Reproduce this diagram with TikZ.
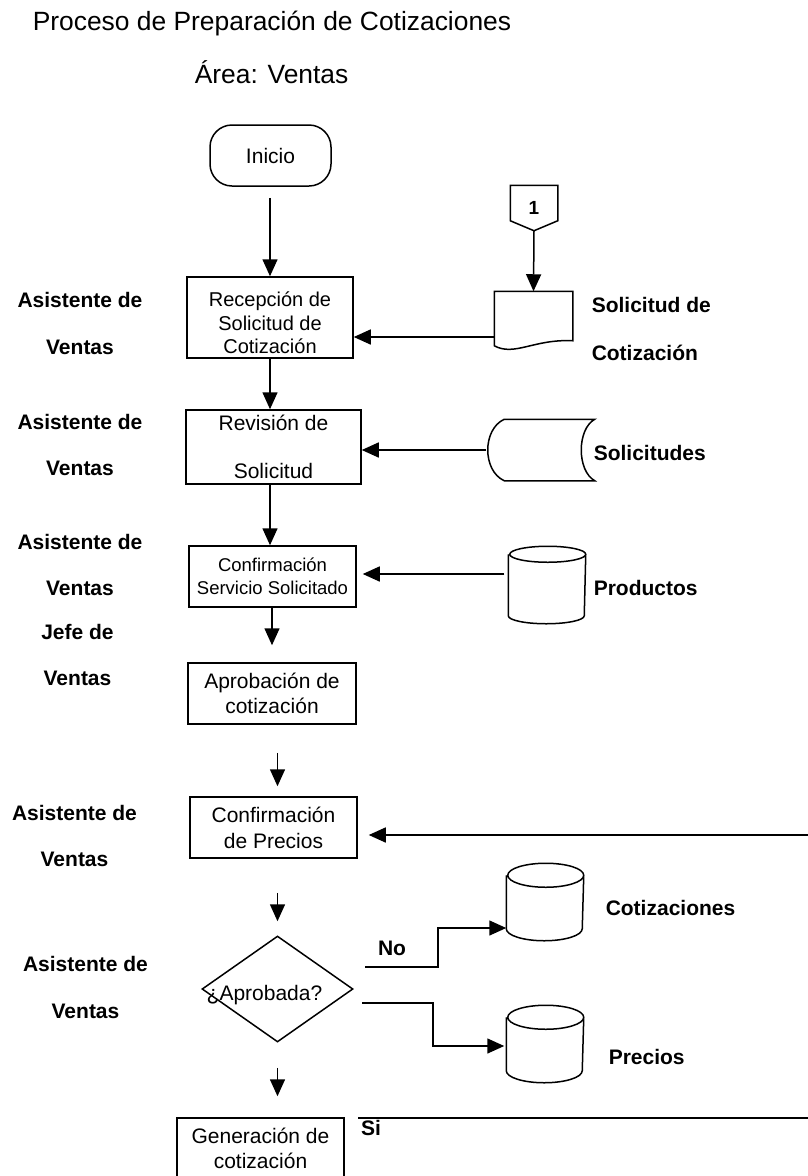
\documentclass[tikz,border=0pt]{standalone}
\usepackage{fontspec}
\setmainfont{Liberation Sans}
\usetikzlibrary{arrows.meta,shapes.geometric,calc}
\newcommand\titlefont{\fontsize{26.4}{30}\selectfont}
\newcommand\boxfont{\fontsize{21}{25}\selectfont}
\newcommand\labfont{\fontsize{21}{46.5}\selectfont\bfseries}
\newcommand\drawcyl[2]{%
  \draw[fill=white] ([yshift=-#2pt]#1.north west) -- ([yshift=#2pt]#1.south west)
    arc[start angle=180, end angle=360, x radius=38pt, y radius=#2pt]
    -- ([yshift=-#2pt]#1.north east)
    arc[start angle=0, end angle=180, x radius=38pt, y radius=#2pt]
    arc[start angle=180, end angle=360, x radius=38pt, y radius=#2pt];}
\tikzset{
  box/.style={draw, line width=1.5pt, inner sep=0pt, align=center, font=\boxfont},
  arr/.style={line width=1.5pt, -{Triangle[length=17pt,width=15pt]}},
  lab/.style={font=\labfont, align=center, inner sep=0pt},
  rlab/.style={font=\labfont, align=left, anchor=west, inner sep=0pt},
  holder/.style={inner sep=0pt, minimum width=#1},
}
\begin{document}
\begin{tikzpicture}[x=1pt, y=-1pt, line width=1.5pt]
\fill[white] (0,0) rectangle (808,1176);
\useasboundingbox (0,0) rectangle (808,1176);

% titles
\node[anchor=base west, inner sep=0pt, font=\titlefont] (title) at (32,30) {Proceso de Preparación de Cotizaciones};
\node[anchor=base west, inner sep=0pt, font=\titlefont] (area) at (194,83) {Área: Ventas};

% left role labels
\node[lab] (r1) at (80,323.5) {Asistente de\\Ventas};
\node[lab] (r2) at (80,445) {Asistente de\\Ventas};
\node[lab] (r3) at (80,565) {Asistente de\\Ventas};
\node[lab] (r4) at (77.5,655) {Jefe de\\Ventas};
\node[lab] (r5) at (74.5,836) {Asistente de\\Ventas};
\node[lab] (r6) at (85.5,987.5) {Asistente de\\Ventas};

% main column
\node[draw, rounded corners=22pt, minimum width=121pt, minimum height=61pt, inner sep=0pt, font=\boxfont] (inicio) at (270.5,155.5) {Inicio};
\node[box, minimum width=166pt, minimum height=81pt] (recep) at (270,317.5) {};
\node[inner sep=0pt, align=center, font=\fontsize{20}{23.5}\selectfont] (recepT) at (270,323) {Recepción de\\Solicitud de\\Cotización};
\node[box, minimum width=175pt, minimum height=74pt, font=\fontsize{21}{48}\selectfont] (rev) at (273.5,447) {Revisión de\\Solicitud};
\node[box, minimum width=167pt, minimum height=61pt, font=\fontsize{18.5}{23}\selectfont] (confserv) at (272.5,576.5) {Confirmación\\Servicio Solicitado};
\node[box, minimum width=168pt, minimum height=61pt] (aprob) at (272,693.5) {Aprobación de\\cotización};
\node[box, minimum width=167pt, minimum height=61pt, font=\fontsize{21}{26}\selectfont] (confp) at (273.5,827.5) {Confirmación\\de Precios};
\node[draw, diamond, minimum width=151pt, minimum height=106pt, inner sep=0pt] (dia) at (277.5,989) {};
\node[inner sep=0pt, font=\boxfont, anchor=base] (diaT) at (264.5,1000) {¿Aprobada?};
\node[box, minimum width=167pt, minimum height=61pt] (gen) at (260.5,1148.5) {Generación de\\cotización};

% off-page connector
\node[inner sep=0pt, minimum width=46pt, minimum height=44pt, font=\fontsize{19}{22}\selectfont\bfseries] (conn) at (534,208) {1};
\draw (conn.north west) -- ([yshift=10pt]conn.south west) -- (conn.south) -- ([yshift=10pt]conn.south east) -- (conn.north east) -- cycle;

% document
\node[inner sep=0pt, minimum width=77pt, minimum height=56pt] (doc) at (533.5,320) {};
\draw (doc.north west) -- (doc.north east) -- ($(doc.south east)+(0,-8)$)
  .. controls ($(doc.south west)+(40,-10)$) and ($(doc.south west)+(20,8)$) .. ($(doc.south west)+(0,-3)$) -- cycle;

% stored data (Solicitudes)
\node[inner sep=0pt, minimum width=107pt, minimum height=60pt] (sols) at (540.5,450) {};
\draw ($(sols.north west)+(18,0)$) -- (sols.north east)
  .. controls ($(sols.north east)+(-18,10)$) and ($(sols.south east)+(-18,-10)$) .. (sols.south east)
  -- ($(sols.south west)+(18,0)$)
  .. controls ($(sols.south west)+(-4,-10)$) and ($(sols.north west)+(-4,10)$) .. ($(sols.north west)+(18,0)$) -- cycle;

% databases
\node[inner sep=0pt, minimum width=76pt, minimum height=76pt] (prod) at (547,585) {};
\drawcyl{prod}{8}
\node[inner sep=0pt, minimum width=76pt, minimum height=76pt] (cotiz) at (545,902) {};
\drawcyl{cotiz}{12}
\node[inner sep=0pt, minimum width=76pt, minimum height=76pt] (precios) at (545,1044) {};
\drawcyl{precios}{12}

% right labels
\node[rlab, font=\fontsize{21}{48}\selectfont\bfseries] (ldoc) at (591,329) {Solicitud de\\Cotización};
\node[rlab] (lsols) at (593,453) {Solicitudes};
\node[rlab] (lprod) at (593,588) {Productos};
\node[rlab] (lcot) at (605,908) {Cotizaciones};
\node[rlab] (lpre) at (608,1057) {Precios};
\node[lab] (lno) at (392,948) {No};
\node[lab] (lsi) at (371,1128) {Si};

% free ends
\coordinate (ret) at (808,835);
\coordinate (nos) at (365,967);
\coordinate (sis) at (362,1003);
\coordinate (sia) at (358,1118);
\coordinate (sib) at (808,1118);
\coordinate (da) at ([yshift=-17pt]doc.west);
\coordinate (pa) at ([yshift=11pt]prod.west);

% connectors
\draw[arr, shorten <=11pt] (inicio.south -| recep) -- (recep.north);
\draw[arr] (conn.south) -- (doc.north);
\draw[arr] (da) -- (recep.east |- da);
\draw[arr] (recep.south) -- (rev.north -| recep);
\draw[arr] (sols.west) -- (rev.east |- sols.west);
\draw[arr] (rev.south -| recep) -- (confserv.north -| recep);
\draw[arr, shorten <=4pt, shorten >=6pt] (pa) -- (confserv.east |- pa);
\draw[arr, shorten >=17pt] (confserv.south -| aprob) -- (aprob.north);
\draw[arr, shorten <=28pt, shorten >=10pt] (aprob.south -| dia) -- (confp.north -| dia);
\draw[arr, shorten >=11pt] (ret) -- (confp.east |- ret);
\draw[arr, shorten <=34pt, shorten >=14pt] (confp.south -| dia) -- (dia.north);
\draw[arr] (nos) -- ++(73,0) |- ([yshift=-26pt]cotiz.west);
\draw[arr, shorten >=2pt] (sis) -- ++(71,0) |- ([yshift=-2pt]precios.west);
\draw[arr, shorten <=25pt, shorten >=21pt] (dia.south) -- (gen.north -| dia);
\draw (sia) -- (sib);
\end{tikzpicture}
\end{document}
